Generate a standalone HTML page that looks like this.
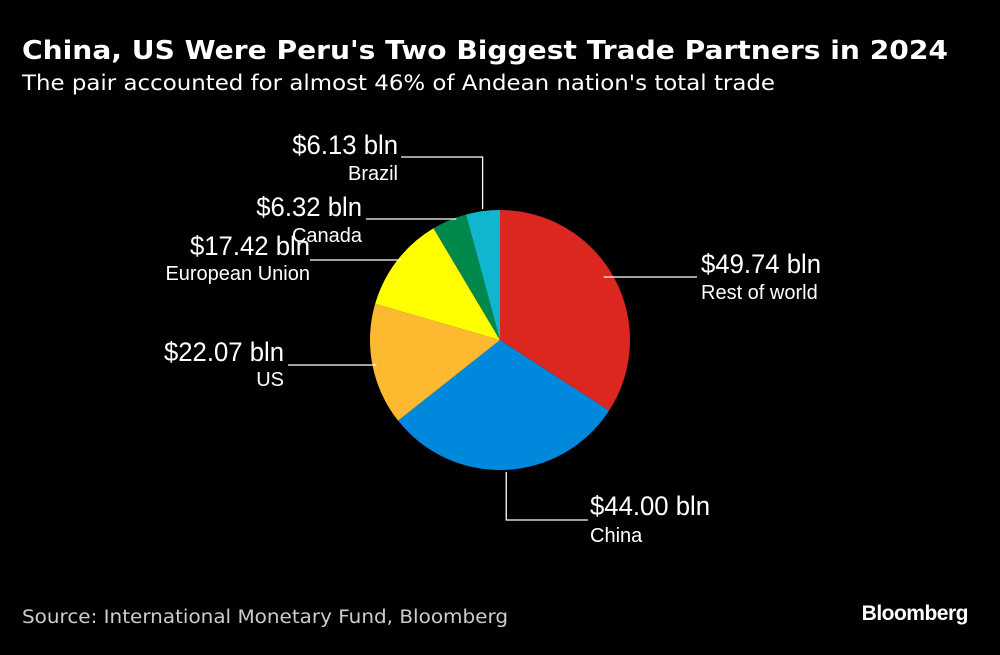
<!DOCTYPE html>
<html><head><meta charset="utf-8"><style>
body{margin:0;background:#000;width:1000px;height:650px;overflow:hidden;font-family:"Liberation Sans",sans-serif;}
svg text{font-family:"Liberation Sans",sans-serif;fill:#fff;}
svg text.dv{font-family:"DejaVu Sans","Liberation Sans",sans-serif;}
</style></head><body>
<svg id="chart" width="1000" height="650">
<rect width="1000" height="650" fill="#000"/>
<text class="dv" x="22" y="59" font-size="26" font-weight="bold" textLength="926" lengthAdjust="spacingAndGlyphs">China, US Were Peru's Two Biggest Trade Partners in 2024</text>
<text class="dv" x="22" y="90" font-size="21" textLength="753" lengthAdjust="spacingAndGlyphs">The pair accounted for almost 46% of Andean nation's total trade</text>
<text class="dv" x="22" y="623" font-size="18.5" textLength="486" lengthAdjust="spacingAndGlyphs" style="fill:#ccc">Source: International Monetary Fund, Bloomberg</text>
<text x="968" y="620" font-size="21" font-weight="bold" text-anchor="end" letter-spacing="-0.5">Bloomberg</text>
<g id="slices"></g>
<g id="labels"></g>
</svg>
<script>
const categories=["Rest of world","China","US","European Union","Canada","Brazil"];
const values=[49.74,44.00,22.07,17.42,6.32,6.13];
const valueLabels=["$49.74 bln","$44.00 bln","$22.07 bln","$17.42 bln","$6.32 bln","$6.13 bln"];
const colors=["#dc2620","#0088dd","#fdb930","#ffff00","#00874a","#10b6d0"];
const cx=500,cy=340,r=130;
const NS="http://www.w3.org/2000/svg";
const total=values.reduce((a,b)=>a+b,0);
function pt(a,rad){return [cx+rad*Math.sin(a),cy-rad*Math.cos(a)];}
const gs=document.getElementById('slices'),gl=document.getElementById('labels');
let a0=0;
const mids=[];
values.forEach((v,i)=>{
  const a1=a0+v/total*2*Math.PI;
  const p0=pt(a0,r),p1=pt(a1,r);
  const large=(a1-a0)>Math.PI?1:0;
  const p=document.createElementNS(NS,'path');
  p.setAttribute('d',`M${cx},${cy}L${p0[0]},${p0[1]}A${r},${r} 0 ${large} 1 ${p1[0]},${p1[1]}Z`);
  p.setAttribute('fill',colors[i]);
  
  
  gs.appendChild(p);
  mids.push((a0+a1)/2);
  a0=a1;
});
function add(tag,attrs,text,name){
  const e=document.createElementNS(NS,tag);
  for(const k in attrs)e.setAttribute(k,attrs[k]);
  if(text)e.textContent=text;
  
  
  gl.appendChild(e);return e;
}
const lay=[
 [697,277,701,'start',273,299,false],
 [588,520,590,'start',515,542,true],
 [288,365,284,'end',361,386,false],
 [310,260,310,'end',255,280,false],
 [366,219,362,'end',216,242,false],
 [401,157,398,'end',154,180,true]
];
mids.forEach((m,i)=>{
  const L=lay[i];
  const slug=categories[i].toLowerCase().replace(/ /g,'-');
  let d;
  if(L[6]){const s=pt(m,r+2);d=`M${s[0]},${s[1]}L${s[0]},${L[1]}L${L[0]},${L[1]}`;}
  else{
    const dy=L[1]-cy;const dx=Math.sqrt(Math.max(r*r-dy*dy,0));
    const ex=L[0]>cx?cx+dx-10:cx-dx+4;
    d=`M${ex},${L[1]}L${L[0]},${L[1]}`;
  }
  add('path',{d:d,stroke:'#fff','stroke-width':1.3,fill:'none'},null,'leader-line-'+slug);
  add('text',{x:L[2],y:L[4],'font-size':26.5,'text-anchor':L[3],transform:`translate(${L[2]},0) scale(0.97,1) translate(${-L[2]},0)`},valueLabels[i],'value-label-'+slug);
  add('text',{x:L[2],y:L[5],'font-size':20,'text-anchor':L[3]},categories[i],'category-label-'+slug);
});
</script>
</body></html>
